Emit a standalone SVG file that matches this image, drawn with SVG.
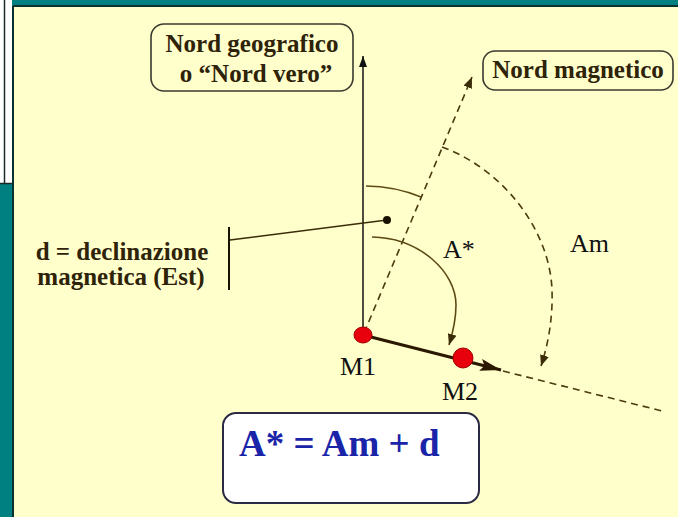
<svg xmlns="http://www.w3.org/2000/svg" width="678" height="517" viewBox="0 0 678 517">
  <style>
    .serif { font-family: "Liberation Serif", "Times New Roman", serif; }
    .lbl { font-family: "Liberation Serif", "Times New Roman", serif; font-weight: bold; font-size: 25px; fill: #2e2208; }
    .pt { font-family: "Liberation Serif", "Times New Roman", serif; font-size: 26px; fill: #111; }
    .box { fill: #FFFFCC; stroke: #3a3a30; stroke-width: 1.6; }
    .olive { fill: none; stroke: #5c4a14; stroke-width: 1.6; }
    .dash { fill: none; stroke: #4a3a10; stroke-width: 1.6; stroke-dasharray: 7 5; }
  </style>
  <defs>
    <marker id="ahBlack" markerUnits="userSpaceOnUse" markerWidth="12" markerHeight="10" refX="11" refY="5" orient="auto">
      <path d="M0,1 L11,5 L0,9 Z" fill="#111"/>
    </marker>
    <marker id="ahThick" markerUnits="userSpaceOnUse" markerWidth="22" markerHeight="14" refX="21" refY="7" orient="auto">
      <path d="M0,1 L21,7 L0,13 L4,7 Z" fill="#2b1800"/>
    </marker>
    <marker id="ahOlive" markerUnits="userSpaceOnUse" markerWidth="12" markerHeight="10" refX="11" refY="5" orient="auto">
      <path d="M0,0.5 L11,5 L0,9.5 Z" fill="#3a2c08"/>
    </marker>
  </defs>

  <!-- background frame -->
  <g id="background">
    <rect x="0" y="0" width="678" height="517" fill="#008080"/>
    <rect x="13" y="6" width="665" height="511" fill="#FFFFCC"/>
    <line x1="13" y1="6" x2="678" y2="6" stroke="#0a3030" stroke-width="2"/>
    <line x1="13" y1="6" x2="13" y2="517" stroke="#0a3030" stroke-width="2"/>
    <rect x="0" y="0" width="12" height="184" fill="#ffffff"/>
    <line x1="4.5" y1="0" x2="4.5" y2="184" stroke="#1a2a2a" stroke-width="1.5"/>
    <line x1="0" y1="183.5" x2="12" y2="183.5" stroke="#1a2a2a" stroke-width="1.5"/>
  </g>

  <!-- connectors -->
  <g id="connectors">
    <!-- true north -->
    <line x1="363" y1="335" x2="363" y2="56" stroke="#111" stroke-width="1.5" marker-end="url(#ahBlack)"/>
    <!-- magnetic north -->
    <line x1="364" y1="333" x2="472" y2="77" class="dash" marker-end="url(#ahOlive)"/>
    <!-- course M1 -> M2 -->
    <line x1="363" y1="335" x2="501" y2="370" stroke="#2b1800" stroke-width="3" marker-end="url(#ahThick)"/>
    <line x1="503" y1="371" x2="662" y2="411" class="dash"/>
    <!-- declination arc -->
    <path d="M366,186 A 149 149 0 0 1 421,197" class="olive"/>
    <!-- leader for d -->
    <line x1="230" y1="240" x2="387" y2="220" stroke="#3a2c08" stroke-width="1.6"/>
    <circle cx="387" cy="220" r="4" fill="#1a1200"/>
    <line x1="229" y1="227" x2="229" y2="290" stroke="#1a1200" stroke-width="2"/>
    <!-- A* arc -->
    <path d="M372,237 C 420,238 456,272 456,305 C 456,320 453,332 449,345" class="olive" marker-end="url(#ahOlive)"/>
    <!-- Am arc -->
    <path d="M442,147 C 505,170 550,232 552,290 C 553,318 548,345 541,366" class="dash" marker-end="url(#ahOlive)"/>
  </g>

  <g id="node-nord-geografico">
    <rect x="151" y="24" width="202" height="67" rx="13" class="box"/>
    <text x="252" y="52" text-anchor="middle" class="lbl">Nord geografico</text>
    <text x="256" y="82" text-anchor="middle" class="lbl">o “Nord vero”</text>
  </g>

  <g id="node-nord-magnetico">
    <rect x="483" y="51" width="190" height="39" rx="12" class="box"/>
    <text x="578" y="78" text-anchor="middle" class="lbl" font-size="26">Nord magnetico</text>
  </g>

  <g id="node-declinazione">
    <text x="122" y="260" text-anchor="middle" class="lbl">d = declinazione</text>
    <text x="121" y="285" text-anchor="middle" class="lbl">magnetica (Est)</text>
  </g>

  <g id="label-Astar">
    <text x="443" y="258" class="pt">A*</text>
  </g>
  <g id="label-Am">
    <text x="570" y="252" class="pt">Am</text>
  </g>

  <g id="node-M1">
    <ellipse cx="363" cy="335" rx="9" ry="8" fill="#e8000c" stroke="#a00000" stroke-width="1"/>
    <text x="340" y="375" class="pt">M1</text>
  </g>

  <g id="node-M2">
    <circle cx="463" cy="358" r="10" fill="#e8000c" stroke="#a00000" stroke-width="1"/>
    <text x="442" y="400" class="pt">M2</text>
  </g>

  <g id="node-formula">
    <rect x="223" y="413" width="256" height="90" rx="13" fill="#ffffff" stroke="#2a2a44" stroke-width="2"/>
    <text x="239" y="456" class="serif" font-weight="bold" font-size="37" fill="#1a24a8">A* = Am + d</text>
  </g>
</svg>
